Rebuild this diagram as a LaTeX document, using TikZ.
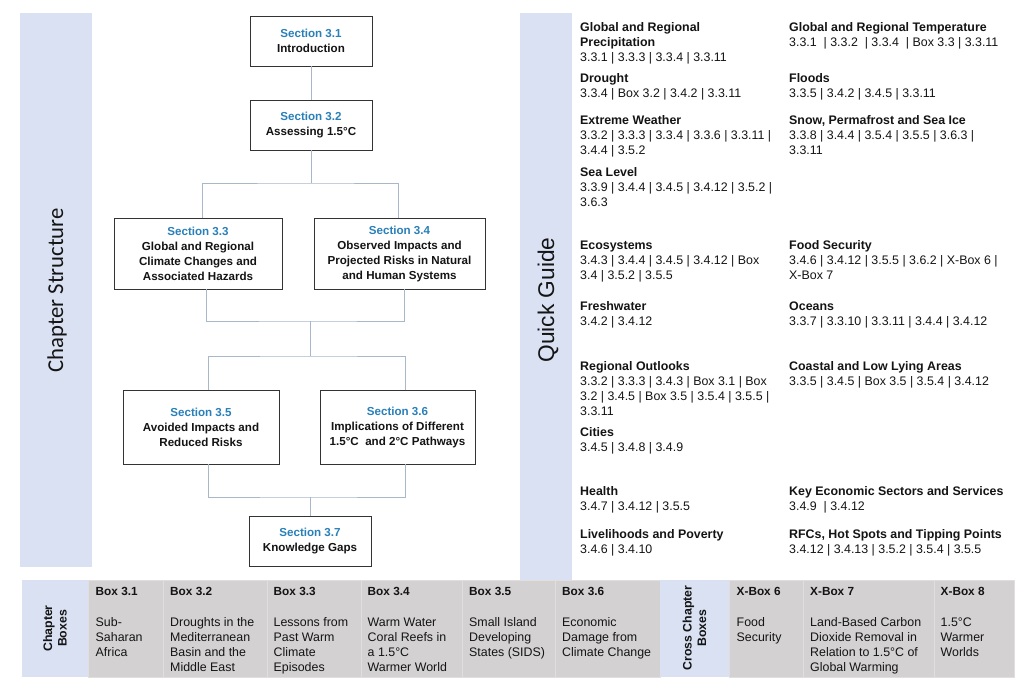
\documentclass[tikz,border=0pt]{standalone}
\usepackage{fontspec}
\setmainfont{Liberation Sans}
\newfontfamily\calibfont{Carlito}
\definecolor{bandblue}{RGB}{217,225,242}
\definecolor{cellgray}{RGB}{211,209,209}
\definecolor{cellline}{RGB}{224,222,222}
\definecolor{secblue}{RGB}{41,128,185}
\definecolor{connc}{RGB}{168,184,200}
\definecolor{boxline}{RGB}{51,51,51}
\definecolor{txt}{RGB}{20,20,20}
\begin{document}
\begin{tikzpicture}[x=1pt,y=-1pt,
  sbox/.style={draw=boxline, line width=0.9pt, fill=white, inner sep=0pt, outer sep=0pt,
    align=center, text=txt, font=\fontsize{11.6}{15}\selectfont\bfseries, anchor=north west},
  conn/.style={draw=connc, line width=0.9pt},
  qg/.style={anchor=north west, inner sep=0pt, align=left, text=txt, font=\fontsize{12.4}{15}\selectfont},
  band/.style={fill=bandblue, draw=none},
  cell/.style={fill=cellgray, draw=cellline, line width=0.8pt, anchor=north west, inner sep=0pt,
    outer sep=0pt, minimum height=97pt},
  lcell/.style={fill=bandblue, draw=none, anchor=north west, inner sep=0pt, outer sep=0pt, minimum height=97pt},
  hdr/.style={anchor=north west, inner sep=0pt, text=txt, font=\fontsize{11.8}{14}\selectfont\bfseries},
  bdy/.style={anchor=north west, inner sep=0pt, align=left, text=txt, font=\fontsize{12.4}{15}\selectfont},
  vlab/.style={rotate=90, inner sep=0pt, align=center, text=txt, font=\fontsize{12.3}{14.5}\selectfont\bfseries},
  sec/.style={text=secblue}
]
\useasboundingbox (0,0) rectangle (1024,693);
\fill[white] (0,0) rectangle (1024,693);

% side bands
\fill[band] (20,13) rectangle (92,567);
\fill[band] (520,13) rectangle (572,580);
\node[rotate=90, inner sep=0pt, text=txt, font=\calibfont\fontsize{22.7}{26}\selectfont] (cs) at (57,290.5) {Chapter Structure};
\node[rotate=90, inner sep=0pt, text=txt, font=\fontsize{22.7}{26}\selectfont] (qgl) at (548,300) {Quick Guide};

% flowchart boxes
\node[sbox, minimum width=122pt, minimum height=50pt] (s31) at (250,16) {\textcolor{secblue}{Section 3.1}\\Introduction};
\node[sbox, minimum width=122pt, minimum height=50pt] (s32) at (250,100) {\textcolor{secblue}{Section 3.2}\\Assessing 1.5°C};
\node[sbox, minimum width=168pt, minimum height=71pt] (s33) at (114,218) {\textcolor{secblue}{Section 3.3}\\Global and Regional\\Climate Changes and\\Associated Hazards};
\node[sbox, minimum width=171pt, minimum height=71pt] (s34) at (314,218) {\textcolor{secblue}{Section 3.4}\\Observed Impacts and\\Projected Risks in Natural\\and Human Systems};
\node[sbox, minimum width=156pt, minimum height=74pt] (s35) at (123,390) {\textcolor{secblue}{Section 3.5}\\Avoided Impacts and\\Reduced Risks};
\node[sbox, minimum width=155pt, minimum height=74pt] (s36) at (320,390) {\textcolor{secblue}{Section 3.6}\\Implications of Different\\1.5°C\ \ and 2°C Pathways};
\node[sbox, minimum width=122pt, minimum height=50pt] (s37) at (249,516) {\textcolor{secblue}{Section 3.7}\\Knowledge Gaps};

% connectors
\coordinate (j1) at (311,183);
\coordinate (m1) at (310,321);
\coordinate (m2) at (310,356);
\coordinate (b1) at (310,497);
\draw[conn] (s31.south) -- (s32.north);
\draw[conn] (s32.south) -- (j1);
\draw[conn] ([xshift=4pt]s33.north) |- (j1) -| ([xshift=-1.5pt]s34.north);
\draw[conn] ([xshift=8pt]s33.south) |- (m1) -| ([xshift=4.5pt]s34.south);
\draw[conn] (m1) -- (m2);
\draw[conn] ([xshift=7pt]s35.north) |- (m2) -| ([xshift=7.5pt]s36.north);
\draw[conn] ([xshift=7pt]s35.south) |- (b1) -| ([xshift=7.5pt]s36.south);
\draw[conn] (b1) -- (s37.north);

% quick guide column 1
\node[qg] (q1) at (580,22.5) {\textbf{Global and Regional}\\\textbf{Precipitation}\\3.3.1 | 3.3.3 | 3.3.4 | 3.3.11};
\node[qg] (q2) at (580,73.5) {\textbf{Drought}\\3.3.4 | Box 3.2 | 3.4.2 | 3.3.11};
\node[qg] (q3) at (580,115.5) {\textbf{Extreme Weather}\\3.3.2 | 3.3.3 | 3.3.4 | 3.3.6 | 3.3.11 |\\3.4.4 | 3.5.2};
\node[qg] (q4) at (580,167.5) {\textbf{Sea Level}\\3.3.9 | 3.4.4 | 3.4.5 | 3.4.12 | 3.5.2 |\\3.6.3};
\node[qg] (q5) at (580,240.5) {\textbf{Ecosystems}\\3.4.3 | 3.4.4 | 3.4.5 | 3.4.12 | Box\\3.4 | 3.5.2 | 3.5.5};
\node[qg] (q6) at (580,301.5) {\textbf{Freshwater}\\3.4.2 | 3.4.12};
\node[qg] (q7) at (580,361.5) {\textbf{Regional Outlooks}\\3.3.2 | 3.3.3 | 3.4.3 | Box 3.1 | Box\\3.2 | 3.4.5 | Box 3.5 | 3.5.4 | 3.5.5 |\\3.3.11};
\node[qg] (q8) at (580,427.5) {\textbf{Cities}\\3.4.5 | 3.4.8 | 3.4.9};
\node[qg] (q9) at (580,486.5) {\textbf{Health}\\3.4.7 | 3.4.12 | 3.5.5};
\node[qg] (q10) at (580,529.5) {\textbf{Livelihoods and Poverty}\\3.4.6 | 3.4.10};
% quick guide column 2
\node[qg] (r1) at (789,22.5) {\textbf{Global and Regional Temperature}\\3.3.1\ \ | 3.3.2\ \ | 3.3.4\ \ | Box 3.3 | 3.3.11};
\node[qg] (r2) at (789,73.5) {\textbf{Floods}\\3.3.5 | 3.4.2 | 3.4.5 | 3.3.11};
\node[qg] (r3) at (789,115.5) {\textbf{Snow, Permafrost and Sea Ice}\\3.3.8 | 3.4.4 | 3.5.4 | 3.5.5 | 3.6.3 |\\3.3.11};
\node[qg] (r4) at (789,240.5) {\textbf{Food Security}\\3.4.6 | 3.4.12 | 3.5.5 | 3.6.2 | X-Box 6 |\\X-Box 7};
\node[qg] (r5) at (789,301.5) {\textbf{Oceans}\\3.3.7 | 3.3.10 | 3.3.11 | 3.4.4 | 3.4.12};
\node[qg] (r6) at (789,361.5) {\textbf{Coastal and Low Lying Areas}\\3.3.5 | 3.4.5 | Box 3.5 | 3.5.4 | 3.4.12};
\node[qg] (r7) at (789,486.5) {\textbf{Key Economic Sectors and Services}\\3.4.9\ \ | 3.4.12};
\node[qg] (r8) at (789,529.5) {\textbf{RFCs, Hot Spots and Tipping Points}\\3.4.12 | 3.4.13 | 3.5.2 | 3.5.4 | 3.5.5};

% bottom row
\node[lcell, minimum width=66pt] (cbl) at (22,580) {};
\node[vlab] (cbt) at (55,628.5) {Chapter\\Boxes};
\node[cell, minimum width=75pt] (c31) at (88,580) {};
\node[cell, minimum width=104pt] (c32) at (163,580) {};
\node[cell, minimum width=94pt] (c33) at (267,580) {};
\node[cell, minimum width=101pt] (c34) at (361,580) {};
\node[cell, minimum width=93pt] (c35) at (462,580) {};
\node[cell, minimum width=105pt] (c36) at (555,580) {};
\node[lcell, minimum width=69pt] (xcl) at (660,580) {};
\node[vlab] (xct) at (694.5,628) {Cross Chapter\\Boxes};
\node[cell, minimum width=74pt] (x6) at (729,580) {};
\node[cell, minimum width=131pt] (x7) at (803,580) {};
\node[cell, minimum width=80pt] (x8) at (934,580) {};

\node[hdr] (h31) at (95.5,587.5) {Box 3.1};
\node[bdy] (t31) at (95.5,617.3) {Sub-\\Saharan\\Africa};
\node[hdr] (h32) at (170,587.5) {Box 3.2};
\node[bdy] (t32) at (170,617.3) {Droughts in the\\Mediterranean\\Basin and the\\Middle East};
\node[hdr] (h33) at (273.5,587.5) {Box 3.3};
\node[bdy] (t33) at (273.5,617.3) {Lessons from\\Past Warm\\Climate\\Episodes};
\node[hdr] (h34) at (367.5,587.5) {Box 3.4};
\node[bdy] (t34) at (367.5,617.3) {Warm Water\\Coral Reefs in\\a 1.5°C\\Warmer World};
\node[hdr] (h35) at (469,587.5) {Box 3.5};
\node[bdy] (t35) at (469,617.3) {Small Island\\Developing\\States (SIDS)};
\node[hdr] (h36) at (562,587.5) {Box 3.6};
\node[bdy] (t36) at (562,617.3) {Economic\\Damage from\\Climate Change};
\node[hdr] (hx6) at (736.5,587.5) {X-Box 6};
\node[bdy] (tx6) at (736.5,617.3) {Food\\Security};
\node[hdr] (hx7) at (810,587.5) {X-Box 7};
\node[bdy] (tx7) at (810,617.3) {Land-Based Carbon\\Dioxide Removal in\\Relation to 1.5°C of\\Global Warming};
\node[hdr] (hx8) at (940.5,587.5) {X-Box 8};
\node[bdy] (tx8) at (940.5,617.3) {1.5°C\\Warmer\\Worlds};
\end{tikzpicture}
\end{document}
